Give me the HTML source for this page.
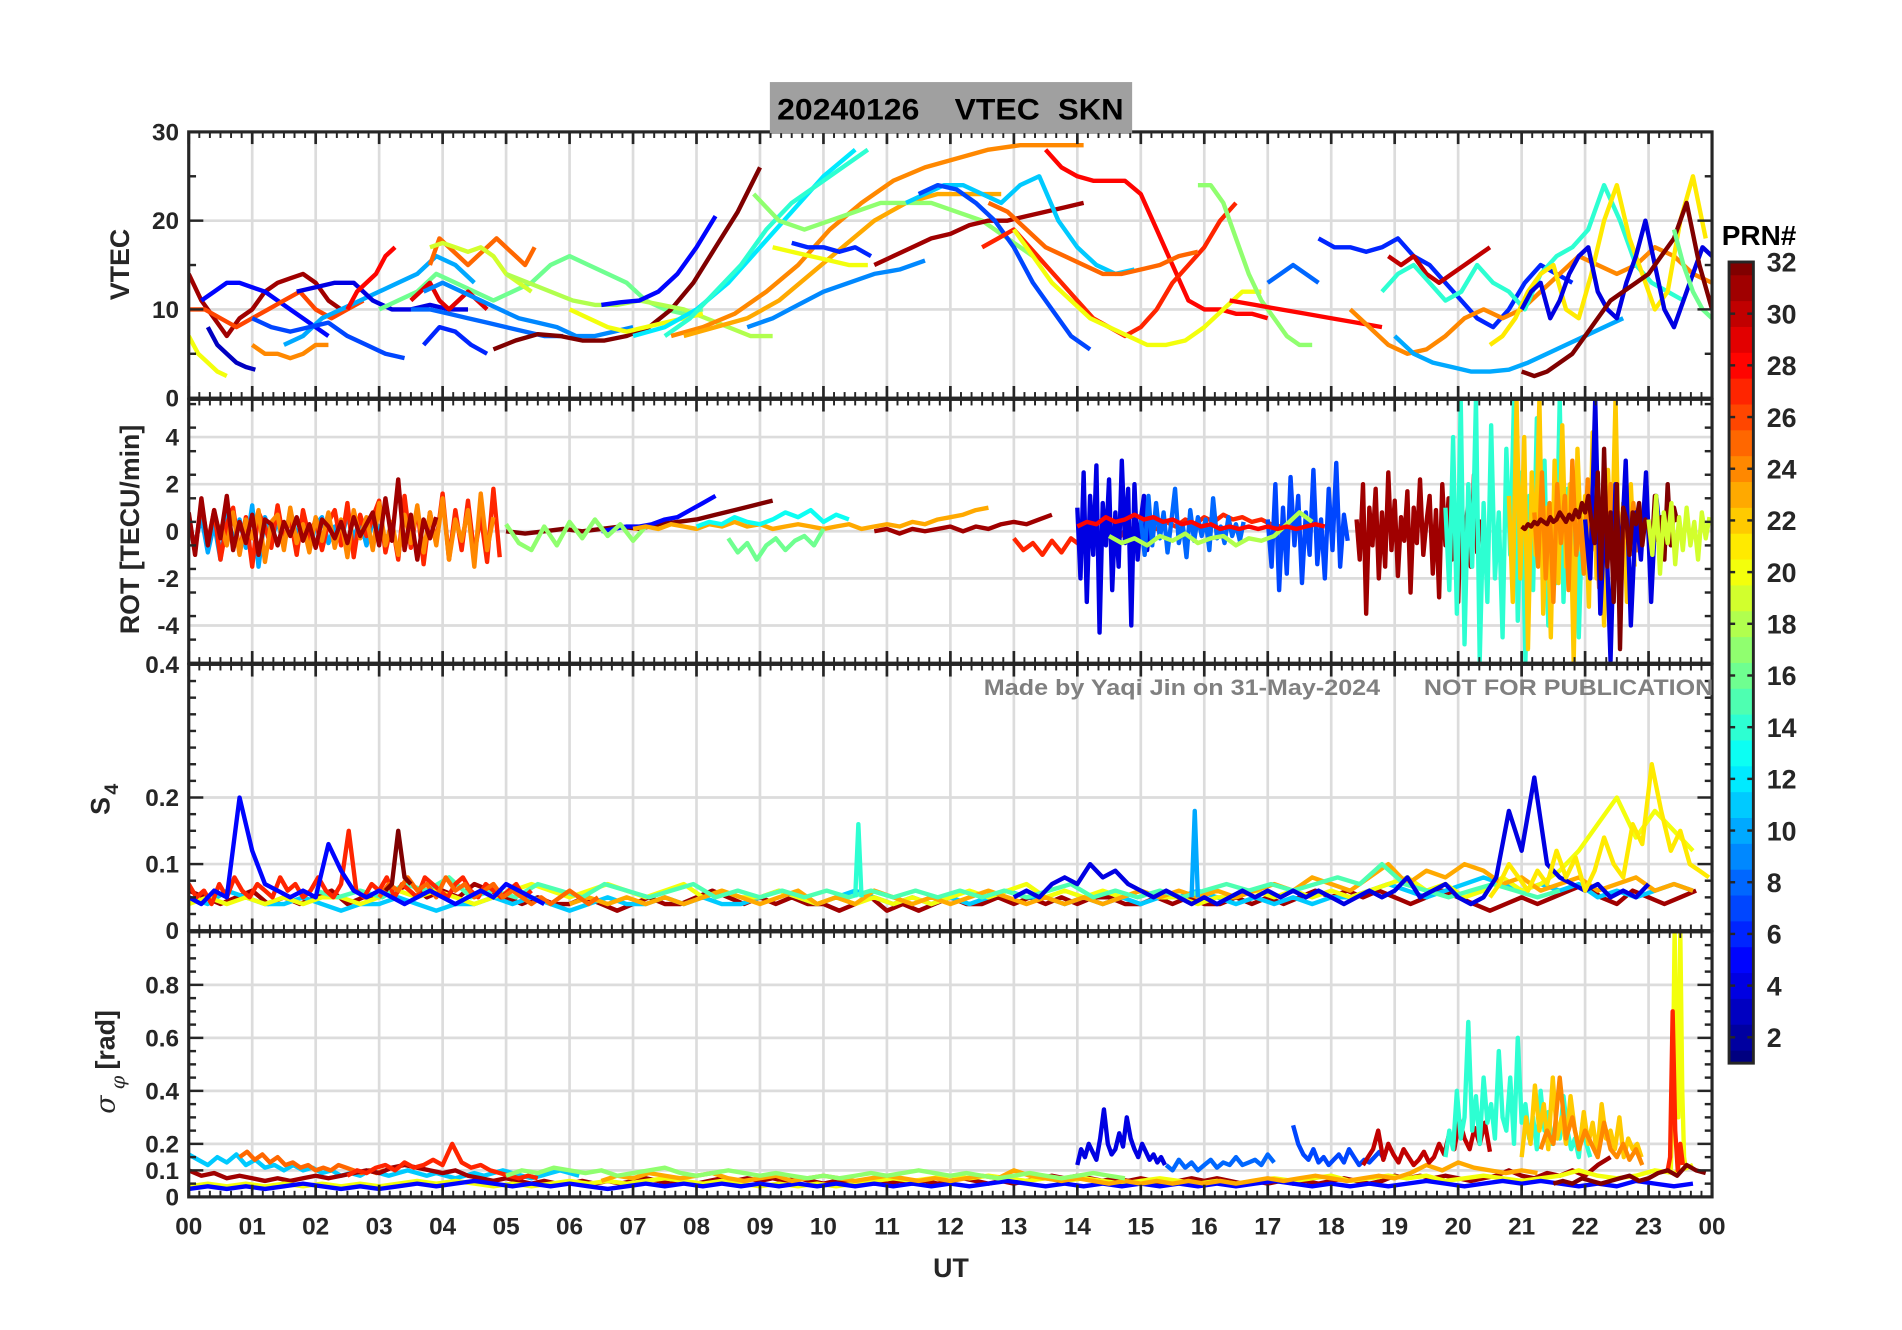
<!DOCTYPE html>
<html><head><meta charset="utf-8"><style>
html,body{margin:0;padding:0;background:#fff;}
svg{display:block;font-family:"Liberation Sans",Arial,sans-serif;}
</style></head><body>
<svg id="fig" width="1902" height="1330" viewBox="0 0 1564 1094" xmlns="http://www.w3.org/2000/svg">
<g id="root" transform="translate(-2,-2.5)"></g>
</svg>
<script>
// ---------- data ----------
const hourTicks = ["00","01","02","03","04","05","06","07","08","09","10","11","12","13","14","15","16","17","18","19","20","21","22","23","00"];
const vtecTicks = [0,10,20,30];
const rotTicks = [-4,-2,0,2,4];
const s4Ticks = [0,0.1,0.2,0.4];
const sigTicks = [0,0.1,0.2,0.4,0.6,0.8];
const prnTicks = [2,4,6,8,10,12,14,16,18,20,22,24,26,28,30,32];
// series: [prn, startHour, stepHours, values]
const vtecSeries = [
 [31,0.0,0.2,[14,11,9,7,9,10,12,13,13.5,14,13,11,10]],
 [5,0.2,0.2,[11,12,13,13,12.5,12,11,10,9,8,7]],
 [3,0.3,0.15,[8,6,5,4,3.5,3.2]],
 [20,0.0,0.15,[7,5,4,3,2.5]],
 [26,0.0,0.25,[10,10,9,8,9,10,11,12,10,9,10,11]],
 [24,1.0,0.2,[6,5,5,4.5,5,6,6]],
 [10,1.5,0.3,[6,7,9,10,11,12,13,14,16,15,13]],
 [7,1.0,0.3,[9,8,7.5,8,8.5,7,6,5,4.5]],
 [4,1.7,0.3,[12,12.5,13,13,11,10,10,10.5,10,10]],
 [28,2.5,0.15,[10,12,13,14,16,17]],
 [16,3.0,0.3,[10,11,12,14,13,12,11,12,13,15,16,15,14,13,11,10,9.5,10]],
 [25,3.8,0.15,[15,18,17,16,15,16,17,18,17,16,15,17]],
 [19,3.8,0.2,[17,17.5,17,16.5,17,16,14,13,12]],
 [29,3.5,0.15,[11,12,13,11,10,11,12,11,10]],
 [8,3.5,0.3,[10,10,9.5,9,8.5,8,7.5,7,7]],
 [6,3.7,0.25,[6,8,7.5,6,5]],
 [9,3.7,0.3,[12,13,12,11,10,9,8.5,8,7,7,7.5,8]],
 [32,4.8,0.35,[5.5,6.5,7.2,7,6.5,6.5,7,8,10,13,17,21,26]],
 [18,5.0,0.35,[14,13,12,11,10.5,10.5,11,10.5,10,9,8,7,7]],
 [20,6.0,0.3,[10,9,8,7.5,8,8.5,9,9.5]],
 [5,6.5,0.3,[10.5,10.8,11,12,14,17,20.5]],
 [12,7.0,0.5,[7,8,10,13,17,21,25,28]],
 [14,7.5,0.4,[7,9,12,15,19,22,24,26,28]],
 [24,7.6,0.5,[7,8,9.5,12,15,19,22,24.5,26,27,28,28.5,28.5,28.5]],
 [23,7.8,0.5,[7,8,9,11,14,17,20,22,23,23,23]],
 [17,8.9,0.4,[23,20,19,20,21,22,22,22,21,20,18,16]],
 [20,9.2,0.3,[17,16.5,16,15.5,15,15]],
 [9,8.8,0.4,[8,9,10.5,12,13,14,14.5,15.5]],
 [6,9.5,0.25,[17.5,17,17,16.5,17,16]],
 [31,10.8,0.3,[15,16,17,18,18.5,19.5,20,20,20.5,21,21.5,22]],
 [11,11.3,0.3,[22,23,24,24,23,22,24,25,20,17,15,14,14.5]],
 [7,11.5,0.3,[23,24,23.5,22,20,17,13,10,7,5.5]],
 [28,13.5,0.25,[28,26,25,24.5,24.5,24.5,23,19,15,11,10,10,9.5,9.5,9]],
 [27,12.5,0.25,[17,18,19,17,15,13,11,9,8,7,8,10,13,15,17,20,22]],
 [25,12.6,0.3,[22,21,19,17,16,15,14,14,14.5,15,16,16.5]],
 [20,13.0,0.3,[19,16,13,11,9,8,7,6,6,6.5,8,10,12,12]],
 [17,15.9,0.2,[24,24,22,18,14,11,9,7,6,6]],
 [28,16.4,0.4,[11,10.5,10,9.5,9,8.5,8]],
 [6,17.8,0.25,[18,17,17,16.5,17,18,16,15,13,11,9,8,10,13,15,14,13]],
 [8,17.0,0.2,[13,14,15,14,13]],
 [30,18.9,0.2,[16,15,16,14,13,14,15,16,17]],
 [24,18.3,0.3,[10,8,6,5,5.5,7,9,10,9,10,12,14,16,15,14,15,17,16,14,13,12,13,11,9,8]],
 [10,19.0,0.3,[7,5,4,3.5,3,3,3.2,4,5,6,7,8,9]],
 [14,18.8,0.25,[12,14,15,13,11,12,15,13,12,10,14,16,17,19,24,20,15,13,12,11]],
 [21,20.5,0.2,[6,7,9,12,14,15,10,9,14,20,24,18,14,10,12,20,25,18,13,10,14,19,17,12,10,9,8]],
 [4,21.0,0.15,[10,12,13,9,11,14,16,17,12,10,9,13,16,20,15,10,8,11,14,17,16,13,8,5,4,3,4]],
 [32,21.0,0.2,[3,2.5,3,4,5,7,9,11,12,13,14,16,18,22,15,10,7,5,4,3,3,2.5,3,4,6,5]],
 [16,23.4,0.15,[19,15,12,10,9,8,7]]
];
const rotSeries = [
 [10,0,0.1,[0.2,-0.5,0.6,-0.9,0.3,-1.2,0.8,-0.4,0.5,-0.7,1.1,-1.5,0.6,-0.3,0.4,-0.6,0.9,-0.2,0.5,-0.8,0.3,0.6,-0.5,0.2,-0.4,0.7,-0.3,0.5,-0.6,0.4,0.2,-0.5,0.3]],
 [27,0,0.1,[0.5,-0.8,1.2,-0.5,0.9,-1.2,0.3,1.0,-0.9,0.6,-1.5,0.8,0.2,-0.7,1.1,-0.4,0.6,-1.0,0.9,-0.3,0.5,-0.8,0.4,0.9,-0.6,1.2,-1.1,0.7,-0.2,0.6,1.3,-0.9,0.4,-1.2,1.5,-0.7,1.0,-1.4,0.8,-0.5,1.6,-1.2,0.9,-0.8,1.3,-1.0,0.7,-1.3,1.8,-1.1]],
 [24,0.5,0.1,[0.3,-0.6,0.8,-1.0,0.5,-0.3,0.9,-1.3,0.4,0.7,-0.8,1.0,-0.5,0.3,-0.9,0.6,-0.4,0.8,-0.7,0.5,-1.1,0.9,-0.3,0.6,-0.8,1.2,-0.6,0.4,-1.0,0.7,-0.5,1.1,-0.9,0.8,-0.6,1.4,-1.2,0.5,-0.4,0.9,-1.5,1.6,-0.8,0.6]],
 [31,0,0.1,[0.8,-1.0,1.4,-0.6,0.9,-0.3,1.5,-0.8,0.4,-0.5,0.7,-1.0,0.5,0.3,-0.6,0.4,-0.2,0.6,-0.4,0.3,-0.7,0.5,0.2,-0.3,0.4,-0.5,0.6,-0.2,0.3,0.8,-0.6,1.4,-0.4,2.2,-0.8,0.7,-1.2,0.5,-0.3,0.6]],
 [32,5.0,0.3,[0,-0.1,0,0.1,0,0.1,0.2,0.1,0.3,0.4,0.5,0.7,0.9,1.1,1.3]],
 [5,6.5,0.2,[0,0.1,0.2,0.2,0.3,0.5,0.6,0.9,1.2,1.5]],
 [17,5.0,0.2,[0.3,-0.5,-0.8,0.2,-0.6,0.4,-0.3,0.5,-0.2,0.3,-0.4,0.2]],
 [23,7.0,0.2,[0.1,0.2,0.1,0.3,0.2,0.1,0.3,0.2,0.4,0.2,0.3,0.1,0.2,0.3,0.2,0.1,0.2,0.3,0.1,0.2,0.3,0.2,0.4,0.3,0.5,0.6,0.7,0.9,1.0]],
 [13,8.0,0.2,[0.2,0.4,0.3,0.6,0.4,0.3,0.5,0.8,0.6,0.9,0.4,0.7,0.5]],
 [16,8.5,0.15,[-0.3,-0.9,-0.5,-1.2,-0.6,-0.3,-0.8,-0.4,-0.2,-0.6,0.1]],
 [31,10.8,0.2,[0,0.1,-0.1,0.1,0,0.1,0.2,0,0.2,0.1,0.3,0.4,0.3,0.5,0.7]],
 [27,13.0,0.15,[-0.3,-0.8,-0.5,-1.0,-0.4,-0.9,-0.3,-0.6,-0.2,-0.5,0,-0.3,0.2,-0.2,0.3,0.1,0.4,0.2,0.5,0.3,0.6,0.4,0.7,0.5,0.6,0.4,0.5,0.3,0.2,0.1]],
 [4,14.0,0.05,[1.0,-2.0,2.5,-3.0,1.5,-1.0,2.8,-4.3,1.2,-0.6,2.2,-2.5,0.8,-1.5,3.0,-0.5,1.8,-4.0,2.0,-1.2,0.5,1.5,-0.8,0.6]],
 [8,15.0,0.06,[0.5,-1.0,1.5,-0.6,1.2,-0.3,0.8,-0.9,0.4,1.8,-0.5,0.3,-1.1,0.9,-0.4,0.6,-0.2,0.5,-0.8,1.4,-0.3,0.2,-0.5,0.6,-0.2,0.3,-0.4,0.4]],
 [7,17.0,0.06,[0.5,-1.5,2.0,-2.5,1.0,-1.8,2.3,-0.6,1.5,-2.2,0.8,-1.0,2.6,-1.4,0.5,-2.0,1.8,-0.8,2.9,-1.5,0.7,-0.4]],
 [18,14.5,0.2,[-0.2,-0.5,-0.3,-0.6,-0.2,-0.4,-0.1,-0.5,-0.3,-0.2,-0.6,-0.3,-0.4,-0.2,0.3,0.8,0.4]],
 [28,14.0,0.15,[0.2,0.4,0.3,0.6,0.4,0.5,0.7,0.5,0.6,0.4,0.5,0.3,0.4,0.2,0.3,0.1,0.2,0.1,0.2,0.1,0.2,0.1,0.2,0.1,0.2,0.3,0.2]],
 [31,18.4,0.05,[0.5,-1.2,2.0,-3.5,1.0,-0.6,1.8,-2.0,0.8,-1.5,2.5,-0.8,1.3,-1.9,0.6,-0.4,1.7,-2.6,1.0,-0.5,2.2,-1.0,0.4,1.5,-1.8,0.9,-2.8,2.0,-0.6,1.4,-1.2,0.8,-3.0,1.6,-0.7,1.0,-1.5,2.4,-0.9,0.5]],
 [14,19.8,0.06,[1.0,-2.5,4.0,-3.5,5.5,-4.8,2.0,-1.5,5.6,-5.5,1.2,-3.0,4.5,-2.0,0.8,-4.5,3.5,-1.0,5.6,-3.8,2.5,-5.5,1.5,-2.5,4.8,-1.2,3.0,-4.0,0.6,-2.2,5.6,-3.0,1.8,-1.0,2.5,-4.5,1.0]],
 [22,20.8,0.06,[1.5,-3.0,5.6,-2.0,4.0,-5.0,2.5,-1.0,5.6,-3.5,1.0,-4.5,3.0,-2.2,4.5,-1.5,2.0,-5.6,3.5,-0.8,1.5,-3.2,4.2,-2.0,0.8,-4.0,2.6,-1.0,5.6,-2.5,1.2,-3.0,2.0,-1.5]],
 [24,21.2,0.06,[0.8,-1.5,2.5,-2.0,1.2,-3.0,2.0,-0.5,1.5,-2.5,3.0,-1.0,0.6,-1.8,2.2,-0.8,1.4,-2.4,1.0,-0.6,2.0,-1.2,0.8,-1.5,1.6,-0.4,1.2,-0.9]],
 [4,22.0,0.08,[0.5,-2.0,5.6,-3.5,1.0,-5.5,2.0,-1.5,3.0,-4.0,0.8,-1.2,2.5,-3.0,1.5,-0.6]],
 [32,21.0,0.05,[0.2,0.1,0.3,0.2,0.4,0.3,0.5,0.4,0.3,0.6,0.4,0.5,0.8,0.6,0.4,0.7,0.5,0.9,0.6,1.2,0.8,1.5,0.4,-0.5,2.5,-2.0,3.5,-1.5,0.8,-3.0,2.0,-5.0,1.0,0.5,-1.0,0.8,0.3,1.2,-0.6,0.5,0.2,-0.8,1.5,-0.4,0.6,-1.2,2.0,-0.6,1.0,0.4]],
 [19,23.0,0.06,[0.5,-1.0,1.5,-1.8,0.8,-0.5,1.2,-1.4,0.6,-0.8,1.0,-0.6,0.4,-1.2,0.8,-0.3,0.6]]
];
const s4Series = [
 [31,0,0.25,[.06,.05,.04,.05,.06,.04,.05,.04,.05,.06,.04,.05,.05,.06,.07,.05,.06,.05,.07,.06,.05,.04,.05,.04,.04,.05,.04,.03,.04,.05,.04,.04,.05,.06,.05,.04,.05,.04,.05,.04,.04,.03,.04,.05,.03,.04,.03,.04,.05,.04,.04,.05,.04,.05,.04,.05,.04,.05,.05,.04,.04,.05,.04,.05,.04,.04,.05,.04,.05,.04,.05,.06,.05,.06,.05,.06,.05,.04,.05,.06,.05,.04,.03,.04,.05,.04,.05,.06,.07,.05,.04,.06,.05,.04,.05,.06]],
 [11,0,0.3,[.05,.04,.06,.05,.04,.04,.05,.04,.03,.04,.04,.05,.04,.03,.04,.04,.05,.04,.05,.04,.03,.04,.05,.04,.04,.05,.04,.05,.04,.04,.05,.06,.05,.04,.05,.06,.05,.04,.05,.04,.05,.04,.05,.06,.05,.05,.04,.05,.04,.05,.04,.05,.05,.06,.05,.04,.05,.04,.05,.04,.05,.05,.06,.07,.06,.05,.06,.07,.08,.07,.06,.07,.06,.07,.05,.06,.05,.06,.07,.06]],
 [20,0,0.3,[.04,.05,.04,.05,.04,.05,.04,.05,.05,.04,.05,.06,.05,.06,.05,.04,.05,.06,.07,.06,.05,.06,.07,.06,.05,.06,.07,.05,.06,.05,.05,.06,.05,.04,.05,.04,.05,.04,.05,.04,.05,.06,.05,.06,.07,.05,.06,.05,.06,.05,.06,.05,.05,.04,.05,.05,.06,.05,.06,.05,.06,.05,.06,.07,.08,.06,.07,.05,.06,.08,.06,.07,.09,.12,.16,.20,.14,.18,.15,.12]],
 [23,6,0.3,[.04,.05,.04,.05,.04,.05,.04,.05,.06,.05,.04,.05,.06,.04,.05,.04,.06,.05,.04,.05,.04,.05,.06,.05,.04,.05,.04,.05,.04,.05,.06,.05,.06,.05,.06,.05,.06,.07,.06,.08,.07,.06,.08,.10,.07,.09,.08,.10,.09,.07,.08,.06,.07,.08,.06,.07,.08,.06,.07,.06]],
 [15,2,0.35,[.06,.05,.06,.05,.07,.06,.08,.05,.06,.05,.07,.06,.05,.07,.06,.05,.06,.07,.05,.06,.05,.06,.05,.06,.05,.06,.05,.06,.05,.06,.05,.06,.05,.06,.07,.05,.06,.05,.06,.05,.06,.07,.06,.07,.06,.07,.08,.07,.10,.07,.06,.05,.06,.07,.06,.05,.06]],
 [27,0,0.12,[.07,.05,.06,.04,.07,.05,.08,.06,.05,.07,.06,.05,.08,.06,.07,.05,.06,.08,.06,.05,.07,.15,.06,.05,.07,.06,.08,.05,.07,.06,.05,.08,.07,.06,.05,.07,.08,.06,.05,.07,.06,.05,.06,.07,.05,.06]],
 [25,3,0.15,[.05,.07,.06,.08,.06,.07,.05,.08,.06,.07,.05,.06,.07,.05,.06,.05,.04,.05,.04,.05,.06,.05,.04,.05]],
 [5,0,0.2,[.05,.04,.06,.05,.20,.12,.07,.06,.05,.06,.05,.13,.09,.06,.05,.06,.05,.04,.05,.06,.05,.04,.05,.06,.05,.07,.06,.05,.04]],
 [4,13,0.2,[.05,.06,.05,.07,.08,.07,.10,.08,.09,.07,.06,.05,.06,.05,.04,.05,.04,.05,.06,.05,.06,.05,.06,.05,.06,.05,.04,.05,.06,.05,.06,.08,.05,.06,.07,.05,.04,.05,.08,.18,.12,.23,.10,.08,.07,.06,.07,.05,.06,.05,.07]],
 [32,3.1,0.1,[.06,.07,.15,.08,.07]],
 [14,10.5,0.05,[.05,.16,.05]],
 [10,15.8,0.05,[.05,.18,.05]],
 [21,20.5,0.15,[.05,.07,.10,.08,.06,.09,.07,.12,.08,.11,.06,.09,.14,.10,.08,.16,.13,.25,.18,.12,.15,.10,.09,.08,.12,.07,.10,.13,.09,.06]]
];
const sigSeries = [
 [11,0,0.15,[.16,.14,.12,.15,.13,.16,.12,.14,.11,.12,.10,.12,.10,.11,.09,.10,.08,.09,.08,.10,.09,.08,.09,.10,.09,.08,.09,.08,.07,.08,.09,.08,.09,.10,.09,.08,.07,.08,.09,.10,.09,.08]],
 [25,0.8,0.12,[.15,.17,.14,.16,.13,.15,.12,.13,.11,.12,.10,.11,.10,.12,.11,.10,.09,.10,.09,.10]],
 [31,0,0.2,[.10,.08,.09,.07,.08,.07,.06,.07,.06,.07,.08,.07,.08,.09,.10,.09,.11,.12,.11,.10,.09,.10,.08,.07,.06,.07,.06,.05,.06,.05,.05,.06,.05,.06,.05,.06,.07,.06,.05,.06,.05,.06,.07,.06,.07,.06,.07,.06,.07,.06,.05,.06,.05,.06,.05,.05,.06,.05,.06,.05,.06,.07,.06,.05,.06,.05,.06,.07,.08,.07,.08,.07,.06,.07,.06,.07,.06,.05,.06,.07,.06,.07,.06,.05,.06,.05,.06,.05,.06,.05,.06,.07,.06,.05,.06,.08,.07,.08,.07,.08,.07,.06,.07,.08,.10,.08,.07,.09,.08,.10,.08,.12,.15]],
 [27,2.5,0.15,[.08,.10,.09,.11,.12,.10,.13,.11,.12,.14,.12,.20,.13,.11,.12,.10,.09,.08,.07,.08,.07]],
 [20,0,0.3,[.04,.05,.04,.05,.04,.05,.04,.05,.04,.05,.04,.05,.06,.05,.06,.05,.04,.05,.04,.05,.06,.05,.06,.05,.06,.07,.06,.05,.06,.05,.04,.05,.04,.05,.04,.05,.06,.07,.06,.07,.08,.07,.08,.07,.06,.07,.06,.07,.06,.05,.06,.07,.06,.05,.06,.05,.06,.07,.06,.07,.08,.06,.07,.08,.07,.08,.06,.07,.08,.07,.06,.07,.08,.10,.08,.07,.08,.10,.09,.12]],
 [5,0,0.3,[.03,.04,.03,.04,.03,.04,.05,.04,.03,.04,.03,.04,.05,.04,.05,.06,.05,.04,.05,.04,.05,.04,.03,.04,.05,.04,.05,.04,.05,.04,.05,.04,.05,.04,.05,.04,.05,.04,.05,.04,.05,.04,.05,.06,.05,.04,.05,.04,.05,.04,.05,.04,.05,.04,.05,.04,.05,.06,.05,.04,.05,.04,.05,.04,.05,.06,.05,.04,.05,.06,.05,.06,.05,.04,.05,.04,.06,.05,.04,.05]],
 [23,6.5,0.25,[.06,.08,.07,.09,.08,.07,.08,.09,.07,.06,.07,.08,.06,.07,.08,.07,.06,.07,.08,.07,.06,.07,.06,.07,.08,.07,.10,.08,.07,.06,.07,.06,.05,.06,.05,.06,.05,.06,.05,.06,.05,.06,.07,.06,.07,.08,.07,.06,.07,.08,.07,.09,.12,.10,.13,.11,.10,.09,.10,.09]],
 [17,5,0.25,[.08,.10,.09,.11,.10,.09,.10,.08,.09,.10,.11,.09,.08,.09,.10,.09,.08,.09,.08,.07,.08,.07,.08,.09,.08,.09,.10,.09,.08,.09,.08,.07,.08,.09,.08,.07,.08,.09,.08,.07]],
 [4,14.0,0.06,[.12,.18,.15,.20,.17,.14,.22,.33,.20,.16,.18,.24,.19,.30,.22,.18,.15,.20,.17,.14,.16,.13,.15,.12]],
 [8,15.4,0.1,[.12,.10,.14,.11,.13,.10,.12,.14,.11,.13,.12,.15,.12,.13,.14,.12,.16,.13]],
 [7,17.4,0.08,[.27,.20,.16,.14,.18,.13,.15,.12,.14,.16,.13,.18,.15,.12,.14,.13,.15,.17,.14]],
 [30,18.5,0.08,[.12,.15,.18,.25,.14,.20,.16,.13,.18,.15,.12,.14,.17,.13,.15,.20,.16,.24,.18,.29,.22,.18,.26,.20,.28,.17]],
 [14,19.8,0.06,[.15,.25,.18,.40,.22,.30,.66,.25,.38,.20,.45,.28,.35,.22,.55,.30,.25,.45,.20,.60,.28,.35,.22,.30,.18,.40,.25,.32,.20,.28,.22,.38,.25,.18,.22,.15,.28,.20,.15]],
 [22,21.0,0.07,[.15,.30,.20,.42,.25,.35,.18,.45,.22,.30,.20,.38,.25,.18,.32,.20,.28,.16,.35,.22,.25,.18,.30,.15,.22,.18,.20,.15]],
 [24,21.3,0.1,[.18,.25,.20,.45,.22,.30,.18,.25,.20,.15,.28,.18,.15,.20,.14,.18,.12]],
 [20,23.35,0.03,[.10,.35,1.0,.60,.30,1.0,.40,.15,.10]],
 [27,23.3,0.04,[.10,.15,.70,.25,.10,.20,.12]],
 [32,21.5,0.15,[.05,.06,.05,.07,.06,.05,.06,.07,.08,.06,.07,.09,.10,.08,.12,.10,.09,.13,.10,.12,.15,.11,.14]]
];

// ---------- layout ----------
const svgNS = "http://www.w3.org/2000/svg";
const root = document.getElementById('root');
const X0 = 157, X1 = 1410;
const panels = [
 {name:'vtec', y0:111, y1:330, lo:0, hi:30, ticks:vtecTicks, series:vtecSeries, minor:5},
 {name:'rot', y0:331, y1:548, lo:-5.6, hi:5.6, ticks:rotTicks, series:rotSeries, minor:1},
 {name:'s4', y0:549, y1:768, lo:0, hi:0.4, ticks:s4Ticks, series:s4Series, minor:0.025},
 {name:'sigma', y0:769, y1:987, lo:0, hi:1.0, ticks:sigTicks, series:sigSeries, minor:0.05}
];
function xs(h){ return X0 + (X1-X0)*h/24; }
function mk(tag, attrs, parent){ const e=document.createElementNS(svgNS,tag); for(const k in attrs) e.setAttribute(k,attrs[k]); (parent||root).appendChild(e); return e; }
function jet(v){ const t=(v-1)/31; const c=x=>Math.round(255*Math.max(0,Math.min(1,1.5-Math.abs(x)))); return `rgb(${c(4*t-3)},${c(4*t-2)},${c(4*t-1)})`; }
const ink = '#262626';

panels.forEach((p,pi)=>{
  const ys = v => p.y1 - (p.y1-p.y0)*(v-p.lo)/(p.hi-p.lo);
  const g = mk('g',{});
  
  
  const cp = mk('clipPath',{id:'clip'+pi}, g);
  mk('rect',{x:X0,y:p.y0,width:X1-X0,height:p.y1-p.y0}, cp);
  const grid = mk('g',{stroke:'#dcdcdc','stroke-width':2.2}, g);
  
  
  for(let h=1;h<24;h++) mk('line',{x1:xs(h),x2:xs(h),y1:p.y0,y2:p.y1},grid);
  p.ticks.forEach(t=>{ if(t>p.lo && t<p.hi) mk('line',{x1:X0,x2:X1,y1:ys(t),y2:ys(t)},grid); });
  const sg = mk('g',{'clip-path':`url(#clip${pi})`,fill:'none','stroke-width':3.6,'stroke-linejoin':'round'}, g);
  
  
  p.series.forEach(s=>{
    const [prn,t0,dt,vals]=s;
    let d='';
    vals.forEach((v,i)=>{ const h=t0+i*dt; if(h>24) return; d+=(i?'L':'M')+xs(h).toFixed(1)+','+ys(v).toFixed(1); });
    const path = mk('path',{d:d,stroke:jet(prn)}, sg);
    
    
  });
  const tg = mk('g',{stroke:ink}, g);
  
  
  for(let k=0;k<=144;k++){
    const x=xs(k/6), major=k%6===0, L=major?10:5, w=major?2.2:1.6;
    mk('line',{x1:x,x2:x,y1:p.y0,y2:p.y0+L,'stroke-width':w},tg);
    mk('line',{x1:x,x2:x,y1:p.y1,y2:p.y1-L,'stroke-width':w},tg);
  }
  for(let v=p.lo; v<=p.hi+1e-9; v+=p.minor){
    const y=ys(v); const major=p.ticks.some(t=>Math.abs(t-v)<1e-6); const L=major?12:6;
    mk('line',{x1:X0,x2:X0+L,y1:y,y2:y,'stroke-width':2},tg);
    mk('line',{x1:X1,x2:X1-L,y1:y,y2:y,'stroke-width':2},tg);
  }
  mk('rect',{x:X0,y:p.y0,width:X1-X0,height:p.y1-p.y0,fill:'none',stroke:ink,'stroke-width':2.6}, g);
  p.ticks.forEach(t=>{
    const lab = mk('text',{x:X0-8,y:ys(t)+7,'text-anchor':'end','font-size':20,'font-weight':'bold',fill:ink}, g);
    lab.textContent = (p.name==='vtec'||p.name==='rot'||t===0)? String(t) : t.toFixed(1);
    
    
  });
});

hourTicks.forEach((t,i)=>{
  const lab = mk('text',{x:xs(i),y:1018,'text-anchor':'middle','font-size':20,'font-weight':'bold',fill:ink});
  lab.textContent = t;
  
  
});

// colorbar
const CB = {x:1424, w:20, top:218, bot:877};
const cbg = mk('g',{});


const cbY = v => CB.bot - (CB.bot-CB.top)*(v-1)/31;
for(let k=1;k<=32;k++){
  const yTop = cbY(Math.min(32,k+0.5)), yBot = cbY(Math.max(1,k-0.5));
  mk('rect',{x:CB.x,y:yTop-0.3,width:CB.w,height:yBot-yTop+0.6,fill:jet(k)},cbg);
}
prnTicks.forEach(t=>{
  const y=cbY(t);
  mk('line',{x1:CB.x+CB.w,x2:CB.x+CB.w-5,y1:y,y2:y,stroke:ink,'stroke-width':2},cbg);
  mk('line',{x1:CB.x,x2:CB.x+5,y1:y,y2:y,stroke:ink,'stroke-width':2},cbg);
  const lab = mk('text',{x:CB.x+31,y:y+8,'font-size':22,'font-weight':'bold',fill:ink},cbg);
  lab.textContent=String(t);
  
  
});
mk('rect',{x:CB.x,y:CB.top,width:CB.w,height:CB.bot-CB.top,fill:'none',stroke:ink,'stroke-width':2.4},cbg);
</script>
<script>
(function(){
 const root=document.getElementById('root'); const ns="http://www.w3.org/2000/svg";
 function t(txt,attrs,name){ const e=document.createElementNS(ns,'text'); for(const k in attrs) e.setAttribute(k,attrs[k]); e.textContent=txt;
   
   
   root.appendChild(e); return e; }
 const box=document.createElementNS(ns,'rect');
 box.setAttribute('x',635); box.setAttribute('y',70); box.setAttribute('width',298); box.setAttribute('height',42); box.setAttribute('fill','#a0a0a0');
 
 
 root.appendChild(box);
 t('20240126',{x:641,y:101,'font-size':24,'font-weight':'bold',fill:'#000',textLength:117,lengthAdjust:'spacingAndGlyphs'},'title-date');
 t('VTEC',{x:787,y:101,'font-size':24,'font-weight':'bold',fill:'#000',textLength:70,lengthAdjust:'spacingAndGlyphs'},'title-quantity');
 t('SKN',{x:872,y:101,'font-size':24,'font-weight':'bold',fill:'#000',textLength:54,lengthAdjust:'spacingAndGlyphs'},'title-station');
 t('PRN#',{x:1418,y:204,'font-size':23,'font-weight':'bold',fill:'#000'},'colorbar-title');
 t('Made by Yaqi Jin on 31-May-2024',{x:811,y:574,'font-size':18,'font-weight':'bold',fill:'#808080',textLength:326,lengthAdjust:'spacingAndGlyphs'},'watermark-author');
 t('NOT FOR PUBLICATION',{x:1173,y:574,'font-size':18,'font-weight':'bold',fill:'#808080',textLength:238,lengthAdjust:'spacingAndGlyphs'},'watermark-notice');
 t('UT',{x:784,y:1053,'font-size':22,'font-weight':'bold','text-anchor':'middle',fill:'#262626'},'x-axis-title');
 t('VTEC',{x:0,y:0,'font-size':22,'font-weight':'bold','text-anchor':'middle',fill:'#262626',transform:'translate(108,220) rotate(-90)'},'vtec-axis-title');
 t('ROT [TECU/min]',{x:0,y:0,'font-size':22,'font-weight':'bold','text-anchor':'middle',fill:'#262626',transform:'translate(116,438) rotate(-90)'},'rot-axis-title');
 const s4=t('S',{x:0,y:0,'font-size':22,'font-weight':'bold','text-anchor':'middle',fill:'#262626',transform:'translate(92,660) rotate(-90)'},'s4-axis-title');
 const sub=document.createElementNS(ns,'tspan'); sub.setAttribute('font-size',16); sub.setAttribute('dy',7); sub.setAttribute('dx',2); sub.textContent='4'; s4.appendChild(sub);
 const sg=t('σ',{x:0,y:0,'font-size':22,'font-style':'italic','text-anchor':'middle',fill:'#262626',transform:'translate(96,876) rotate(-90)',
   'font-family':'"DejaVu Serif",serif'},'sigma-phi-axis-title');
 const ph=document.createElementNS(ns,'tspan'); ph.setAttribute('font-size',16); ph.setAttribute('dy',8); ph.textContent=' φ '; sg.appendChild(ph);
 const rd=document.createElementNS(ns,'tspan'); rd.setAttribute('dy',-8); rd.setAttribute('font-style','normal'); rd.setAttribute('font-weight','bold'); rd.setAttribute('font-family','"Liberation Sans",sans-serif'); rd.textContent='[rad]'; sg.appendChild(rd);
})();
</script>
</body></html>
